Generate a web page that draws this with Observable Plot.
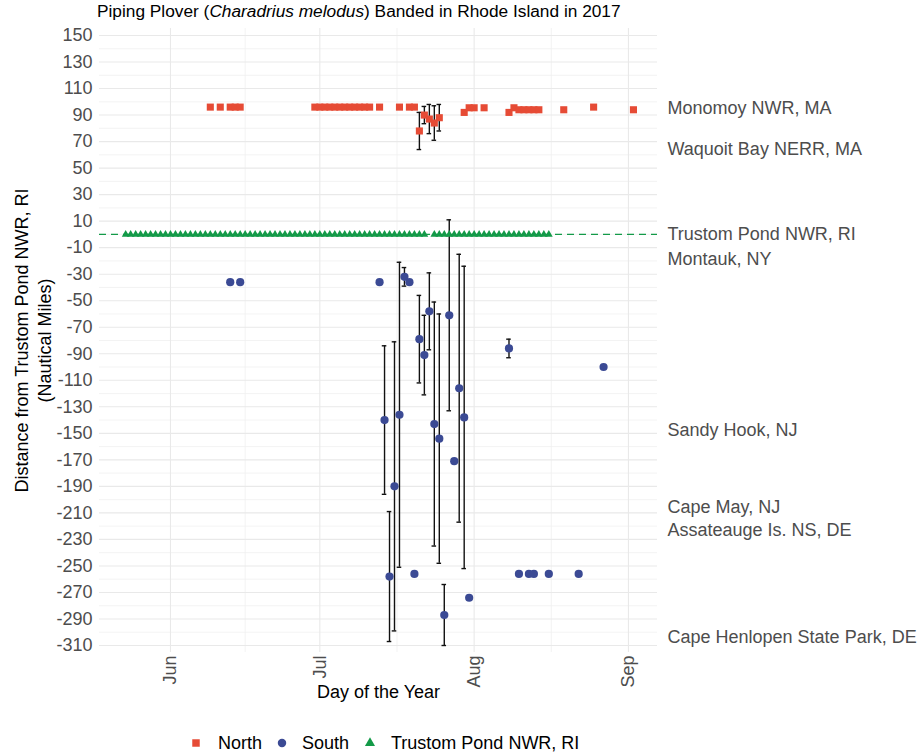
<!DOCTYPE html>
<html>
<head>
<meta charset="utf-8">
<script src="https://cdn.jsdelivr.net/npm/d3@7"></script>
<script src="https://cdn.jsdelivr.net/npm/@observablehq/plot@0.6"></script>
<style>
  body { margin: 0; background: #fff; font-family: "Liberation Sans", Arial, sans-serif; }
  #wrap { position: relative; width: 922px; height: 754px; overflow: hidden; }
  #title { position: absolute; left: 97px; top: 1px; text-align: left; font-size: 17.3px; color: #000; white-space: nowrap; }
  #chart { position: absolute; left: 0; top: 0; }
  .lg { position: absolute; font-size: 18px; color: #000; white-space: nowrap; line-height: 20px; }
</style>
</head>
<body>
<div id="wrap">
  <div id="chart"></div>
  <div id="title">Piping Plover (<i>Charadrius melodus</i>) Banded in Rhode Island in 2017</div>
  <div id="legend"></div>
</div>
<script>
// ---------- data ----------
const northDates = ["2017-06-09","2017-06-11","2017-06-13","2017-06-14","2017-06-15",
  "2017-06-30","2017-07-01","2017-07-02","2017-07-03","2017-07-04","2017-07-05","2017-07-06",
  "2017-07-07","2017-07-08","2017-07-09","2017-07-10","2017-07-11",
  "2017-07-13","2017-07-17","2017-07-19","2017-07-20",
  "2017-07-21","2017-07-22","2017-07-23","2017-07-24","2017-07-25",
  "2017-07-30","2017-07-31","2017-08-01","2017-08-03",
  "2017-08-08","2017-08-09","2017-08-10","2017-08-11","2017-08-12","2017-08-13","2017-08-14",
  "2017-08-19","2017-08-25","2017-09-02"];
const northValues = [96,96,96,96,96,
  96,96,96,96,96,96,96,
  96,96,96,96,96,
  96,96,96,96,
  78,90,87,84,88,
  92,95.5,95.5,95.5,
  92,95.5,94,94,94,94,94,
  94,96,94];
const northErrors = [null,null,null,null,null,
  null,null,null,null,null,null,null,
  null,null,null,null,null,
  null,null,null,null,
  14,6.5,11,13,10,
  null,null,null,null,
  null,null,null,null,null,null,null,
  null,null,null];

const southDates = ["2017-06-13","2017-06-15","2017-07-13","2017-07-14","2017-07-15","2017-07-16",
  "2017-07-17","2017-07-18","2017-07-19","2017-07-20","2017-07-21","2017-07-22","2017-07-23",
  "2017-07-24","2017-07-25","2017-07-26","2017-07-27","2017-07-28","2017-07-29","2017-07-30",
  "2017-07-31","2017-08-08","2017-08-10","2017-08-12","2017-08-13","2017-08-16","2017-08-22",
  "2017-08-27"];
const southValues = [-36,-36,-36,-140,-258,-190,
  -136,-32,-36,-256,-79,-91,-58,
  -143,-154,-287,-61,-171,-116,-138,
  -274,-86,-256,-256,-256,-256,-256,
  -100];
const southErrors = [null,null,null,56,49,109,
  115,7,null,null,33,30,29,
  92,94,23,72,null,101,114,
  null,7,null,null,null,null,null,
  null];

// Trustom Pond (0 nm) daily records, by month
const trustomMay = [23,24,25,26,27,28,29,30,31];
const trustomJun = [1,2,3,4,5,6,7,8,9,10,11,12,13,14,15,16,17,18,19,20,21,22,23,24,25,26,27,28,29,30];
const trustomJul = [1,2,3,4,5,6,7,8,9,10,11,12,13,14,15,16,17,18,19,20,21,22,24,25,26,27,28,29,30,31];
const trustomAug = [1,2,3,4,5,6,7,8,9,10,11,12,13,14,15,16];

// secondary-axis location labels
const locationNames = ["Monomoy NWR, MA","Waquoit Bay NERR, MA","Trustom Pond NWR, RI","Montauk, NY",
  "Sandy Hook, NJ","Cape May, NJ","Assateauge Is. NS, DE","Cape Henlopen State Park, DE"];
const locationValues = [95, 64, 0, -19, -148, -206, -223, -304];

// axis ticks
const yTicks = [150,130,110,90,70,50,30,10,-10,-30,-50,-70,-90,-110,-130,-150,-170,-190,-210,-230,-250,-270,-290,-310];
const yMinor = [140,120,100,80,60,40,20,0,-20,-40,-60,-80,-100,-120,-140,-160,-180,-200,-220,-240,-260,-280,-300];
const xTicks = ["2017-06-01","2017-07-01","2017-08-01","2017-09-01"];
const xMinor = ["2017-06-16T00:00","2017-07-16T12:00","2017-08-16T12:00"];

const seriesNames = ["North","South","Trustom Pond NWR, RI"];
const seriesColors = ["#E64B35","#3B4A94","#139A48"];

// ---------- build tables ----------
const D = s => new Date((s.length === 10 ? s + "T00:00" : s) + ":00Z");
const north = northDates.map((d,i) => ({date: D(d), value: northValues[i], err: northErrors[i]}));
const south = southDates.map((d,i) => ({date: D(d), value: southValues[i], err: southErrors[i]}));
const pad = n => String(n).padStart(2,"0");
const trustom = [
  ...trustomMay.map(d => ({date: D(`2017-05-${pad(d)}`), value: 0})),
  ...trustomJun.map(d => ({date: D(`2017-06-${pad(d)}`), value: 0})),
  ...trustomJul.map(d => ({date: D(`2017-07-${pad(d)}`), value: 0})),
  ...trustomAug.map(d => ({date: D(`2017-08-${pad(d)}`), value: 0}))
];
const bars = [...north, ...south].filter(d => d.err != null);
const caps = bars.flatMap(d => [
  {x1: d3.utcHour.offset(d.date, -11), x2: d3.utcHour.offset(d.date, 11), y: d.value - d.err},
  {x1: d3.utcHour.offset(d.date, -11), x2: d3.utcHour.offset(d.date, 11), y: d.value + d.err}
]);
const locations = locationNames.map((n,i) => ({name: n, value: locationValues[i]}));

const W = 922, H = 754;
const chart = Plot.plot({
  width: W, height: H,
  marginLeft: 99, marginRight: 265, marginTop: 28, marginBottom: 102,
  style: {fontFamily: '"Liberation Sans", Arial, sans-serif', fontSize: "18px", background: "transparent", overflow: "visible"},
  x: {type: "utc", domain: [D("2017-05-17T17:45"), D("2017-09-06T20:00")], label: null},
  y: {domain: [-315.28, 155.28], label: null},
  marks: [
    Plot.ruleY(yMinor, {stroke: "#f0f0f0", strokeWidth: 0.8}),
    Plot.ruleX(xMinor.map(D), {stroke: "#f0f0f0", strokeWidth: 0.8}),
    Plot.ruleY(yTicks, {stroke: "#e9e9e9", strokeWidth: 1.1}),
    Plot.ruleX(xTicks.map(D), {stroke: "#e9e9e9", strokeWidth: 1.1}),
    Plot.ruleY([0], {stroke: seriesColors[2], strokeWidth: 1.2, strokeDasharray: "7,5"}),
    Plot.ruleX(bars, {x: "date", y1: d => d.value - d.err, y2: d => d.value + d.err, stroke: "#111", strokeWidth: 1.4}),
    Plot.ruleY(caps, {x1: "x1", x2: "x2", y: "y", stroke: "#111", strokeWidth: 1.4}),
    Plot.dot(trustom, {x: "date", y: "value", symbol: "triangle", r: 2.9, fill: seriesColors[2], stroke: "none"}),
    Plot.dot(south, {x: "date", y: "value", symbol: "circle", r: 4.1, fill: seriesColors[1], stroke: "none"}),
    Plot.dot(north, {x: "date", y: "value", symbol: "square", r: 4, fill: seriesColors[0], stroke: "none"}),
    Plot.axisY(yTicks, {tickSize: 0, tickPadding: 7, fontSize: 18, color: "#4d4d4d", label: null, tickFormat: d => String(d)}),
    Plot.axisX(xTicks.map(D), {tickSize: 0, tickPadding: 3, fontSize: 18, color: "#4d4d4d", label: null, tickRotate: -90, tickFormat: d3.utcFormat("%b")}),
    Plot.text(locations, {y: "value", text: "name", frameAnchor: "right", dx: 10, textAnchor: "start", fontSize: 18, fill: "#4d4d4d"}),
    Plot.text(["Day of the Year"], {frameAnchor: "bottom", dy: 45, fontSize: 18, fill: "#000"}),
    Plot.text(["Distance from Trustom Pond NWR, RI"], {frameAnchor: "left", dx: -77, rotate: -90, textAnchor: "middle", fontSize: 18, fill: "#000"}),
    Plot.text(["(Nautical Miles)"], {frameAnchor: "left", dx: -54, rotate: -90, textAnchor: "middle", fontSize: 18, fill: "#000"})
  ]
});
document.getElementById("chart").appendChild(chart);

// legend
const legend = document.getElementById("legend");
const items = [
  {x: 196, tx: 218, sym: "square"},
  {x: 282, tx: 302, sym: "circle"},
  {x: 370, tx: 391, sym: "triangle"}
];
const ly = 743;
items.forEach((it, i) => {
  const s = document.createElementNS("http://www.w3.org/2000/svg", "svg");
  s.setAttribute("width", 14); s.setAttribute("height", 14);
  s.style.position = "absolute"; s.style.left = (it.x - 7) + "px"; s.style.top = (ly - 7) + "px";
  const p = document.createElementNS("http://www.w3.org/2000/svg", "path");
  const size = it.sym === "square" ? 56 : it.sym === "circle" ? 56 : 44;
  const type = it.sym === "square" ? d3.symbolSquare : it.sym === "circle" ? d3.symbolCircle : d3.symbolTriangle;
  p.setAttribute("d", d3.symbol(type, size)());
  p.setAttribute("transform", "translate(7,7)");
  p.setAttribute("fill", seriesColors[i]);
  s.appendChild(p);
  legend.appendChild(s);
  const t = document.createElement("div");
  t.className = "lg"; t.textContent = seriesNames[i];
  t.style.left = it.tx + "px"; t.style.top = (ly - 10) + "px";
  legend.appendChild(t);
});
</script>
</body>
</html>
